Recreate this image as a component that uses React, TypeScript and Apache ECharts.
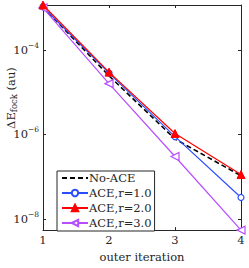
import React, { useEffect, useRef } from "react";
import * as echarts from "echarts";

const iterations = [1, 2, 3, 4];
const noAce = [1.05e-3, 2.45e-5, 7.8e-7, 1.05e-7];
const aceR1 = [1.05e-3, 2.85e-5, 8.9e-7, 3.2e-8];
const aceR2 = [1.17e-3, 3.0e-5, 1.05e-6, 1.12e-7];
const aceR3 = [1.0e-3, 1.6e-5, 3.0e-7, 5.4e-9];
const yTickValues = [1e-8, 1e-6, 1e-4];
const yMin = 5.4e-9;
const yMax = 1.17e-3;

const FONT = "'DejaVu Serif', serif";
const FS = 11.5;
const AXIS = "#262626";

function pairs(vals: number[]) {
  return iterations.map((x, i) => [x, vals[i]]);
}

export default function App() {
  const ref = useRef<HTMLDivElement>(null);
  useEffect(() => {
    if (!ref.current) return;
    const chart = echarts.init(ref.current, null, { renderer: "svg" });
    const expFmt = (v: number) => {
      const e = Math.round(Math.log10(v));
      return `{b|10}{s|${e < 0 ? "\u2212" + Math.abs(e) : e}}`;
    };
    const richLbl = {
      b: { fontFamily: FONT, fontSize: FS, color: "#262626" },
      s: { fontFamily: FONT, fontSize: 7.5, color: "#262626", verticalAlign: "bottom", padding: [0, 0, 9, 0] },
    };
    const yCommon = {
      type: "log",
      logBase: 10,
      min: yMin,
      max: yMax,
      splitLine: { show: false },
      axisLine: { show: true, lineStyle: { color: AXIS, width: 1 } },
      axisTick: { show: true, inside: true, length: 3, customValues: yTickValues, lineStyle: { color: AXIS } },
      minorTick: { show: false },
    };
    const xCommon = {
      type: "value",
      min: 1,
      max: 4,
      interval: 1,
      splitLine: { show: false },
      axisLine: { show: true, lineStyle: { color: AXIS, width: 1 } },
      axisTick: { show: true, inside: true, length: 3, lineStyle: { color: AXIS } },
    };
    chart.setOption({
      animation: false,
      backgroundColor: "#ffffff",
      textStyle: { fontFamily: FONT },
      grid: { left: 43, right: 8, top: 5, bottom: 28, containLabel: false },
      xAxis: [
        {
          ...xCommon,
          position: "bottom",
          name: "outer iteration",
          nameLocation: "middle",
          nameGap: 15,
          nameTextStyle: { fontFamily: FONT, fontSize: FS, color: "#262626" },
          axisLabel: { fontFamily: FONT, fontSize: FS, color: "#262626", margin: 4 },
        },
        { ...xCommon, position: "top", axisLabel: { show: false } },
      ],
      yAxis: [
        {
          ...yCommon,
          position: "left",
          axisLabel: {
            customValues: yTickValues,
            formatter: expFmt,
            rich: richLbl,
            fontFamily: FONT,
            margin: 4,
          },
        },
        { ...yCommon, position: "right", axisLabel: { show: false } },
      ],
      legend: {
        orient: "vertical",
        left: 57,
        top: 171,
        width: 97,
        padding: [1, 3, 2, 4],
        itemGap: 3,
        itemWidth: 26,
        itemHeight: 8,
        backgroundColor: "#ffffff",
        borderColor: "#262626",
        borderWidth: 1,
        borderRadius: 0,
        textStyle: { fontFamily: FONT, fontSize: FS, color: "#262626", padding: [0, 0, 0, -4] },
        data: [
          { name: "No-ACE", itemStyle: { opacity: 0 } },
          "ACE,r=1.0",
          "ACE,r=2.0",
          "ACE,r=3.0",
        ],
      },
      graphic: [
        {
          type: "text",
          x: 11,
          y: 98,
          rotation: Math.PI / 2,
          style: {
            text: "{a|\u0394E}{sub|fock}{a| (au)}",
            align: "center",
            verticalAlign: "middle",
            rich: {
              a: { fontFamily: FONT, fontSize: FS, fill: "#262626" },
              sub: { fontFamily: FONT, fontSize: 8.5, fill: "#262626", verticalAlign: "top", padding: [6, 0, 0, 0] },
            },
          },
        },
      ],
      series: [
        {
          name: "No-ACE",
          type: "line",
          data: pairs(noAce),
          showSymbol: false,
          symbol: "circle",
          lineStyle: { color: "#000000", width: 1.6, type: [5, 3] },
          itemStyle: { color: "#000000", opacity: 0 },
          clip: false,
          z: 3,
        },
        {
          name: "ACE,r=1.0",
          type: "line",
          data: pairs(aceR1),
          symbol: "circle",
          symbolSize: 6,
          lineStyle: { color: "#2a4dff", width: 1.2 },
          itemStyle: { color: "#ffffff", borderColor: "#2a4dff", borderWidth: 1.2 },
          clip: false,
          z: 4,
        },
        {
          name: "ACE,r=2.0",
          type: "line",
          data: pairs(aceR2),
          symbol: "triangle",
          symbolSize: 8,
          lineStyle: { color: "#ff0000", width: 1.2 },
          itemStyle: { color: "#ff0000", borderColor: "#ff0000", borderWidth: 1 },
          clip: false,
          z: 5,
        },
        {
          name: "ACE,r=3.0",
          type: "line",
          data: pairs(aceR3),
          symbol: "triangle",
          symbolRotate: 90,
          symbolSize: 8,
          lineStyle: { color: "#b84cff", width: 1.2 },
          itemStyle: { color: "#ffffff", borderColor: "#b84cff", borderWidth: 1.2 },
          clip: false,
          z: 4,
        },
      ],
    });
    return () => chart.dispose();
  }, []);
  return <div ref={ref} style={{ width: 249, height: 268, position: "absolute", left: 0, top: 0 }} />;
}
